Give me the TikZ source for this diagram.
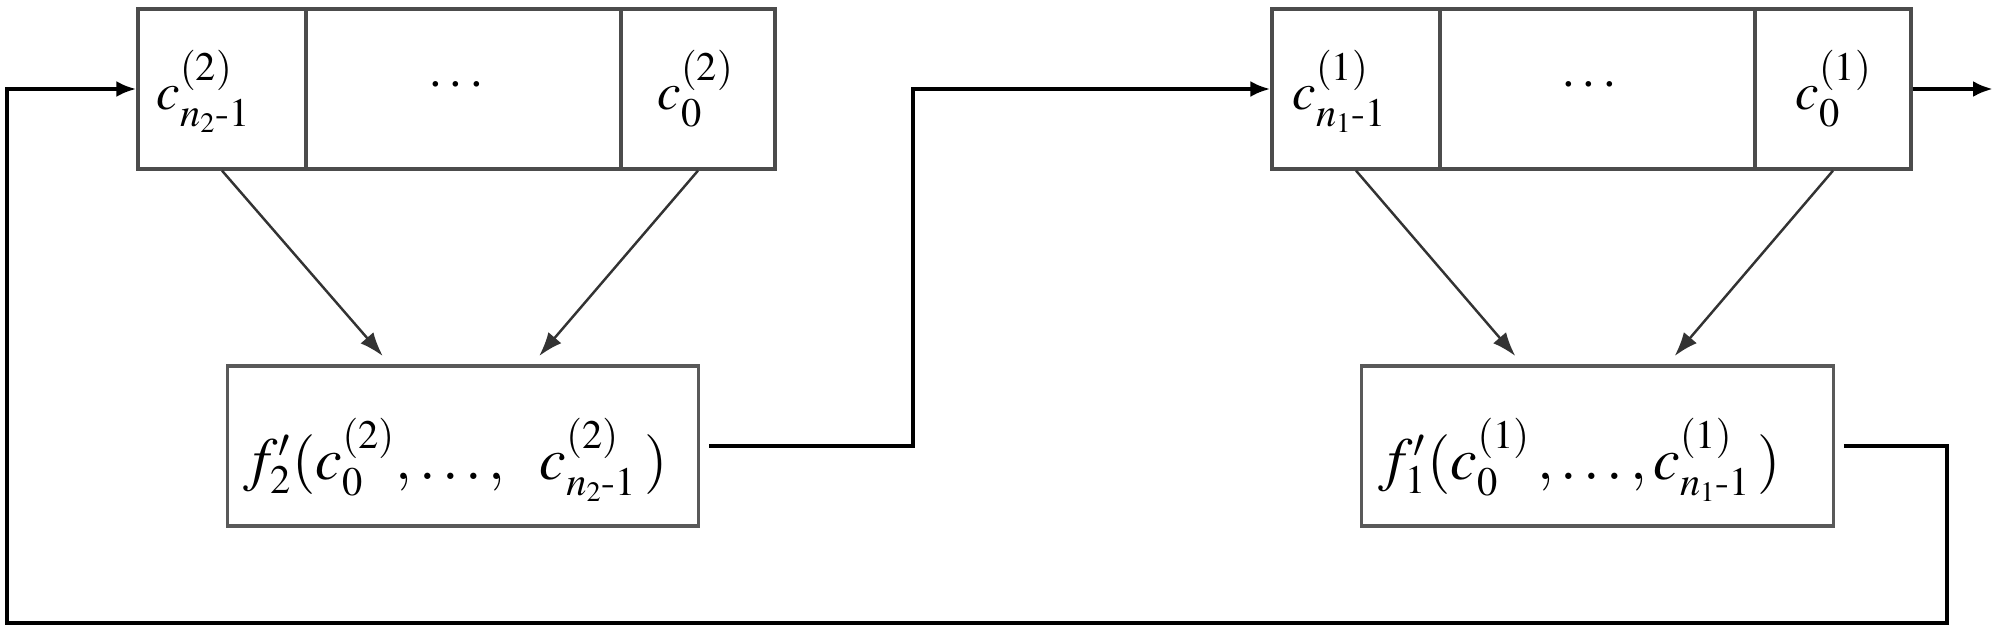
\documentclass[tikz,border=0pt]{standalone}
\usepackage{amsmath}
\usepackage{mathptmx}
\DeclareMathSizes{15}{15}{11.5}{8}
\DeclareMathSizes{17}{17}{11.5}{8}
\usetikzlibrary{arrows.meta,calc}
\begin{document}
\begin{tikzpicture}[x=0.01cm,y=-0.01cm,
  cell/.style={draw=black!70,line width=0.9pt,minimum height=1.6cm,inner sep=0pt},
  funcbox/.style={draw=black!65,line width=0.9pt,minimum width=4.71cm,minimum height=1.6cm,inner sep=0pt},
  reglbl/.style={inner sep=0pt,font=\fontsize{15}{18}\selectfont},
  funlbl/.style={inner sep=0pt,font=\fontsize{17}{20}\selectfont},
  conn/.style={line width=1.2pt},
  tip/.style={-{Latex[length=0.2cm,width=0.16cm]}},
  diag/.style={draw=black!80,line width=0.7pt,-{Latex[length=0.24cm,width=0.17cm]},shorten >=0.11cm}]
\useasboundingbox (0,0) rectangle (2000,636);
% left register
\node[cell,minimum width=1.68cm] (L1) at (222,89) {};
\node[cell,minimum width=3.15cm] (L2) at (463.5,89) {};
\node[cell,minimum width=1.54cm] (L3) at (698,89) {};
% right register
\node[cell,minimum width=1.68cm] (R1) at (1356,89) {};
\node[cell,minimum width=3.15cm] (R2) at (1597.5,89) {};
\node[cell,minimum width=1.56cm] (R3) at (1833,89) {};
% function boxes
\node[funcbox] (FL) at (463,446) {};
\node[funcbox] (FR) at (1597.5,446) {};
% labels
\node[reglbl,anchor=base west] (tL1) at (156,109) {$c^{(2)}_{n_2\text{-}1}$};
\node[reglbl] (tL2) at (459,86) {$\cdots$};
\node[reglbl,anchor=base west] (tL3) at (657,109) {$c^{(2)}_0$};
\node[reglbl,anchor=base west] (tR1) at (1292,109) {$c^{(1)}_{n_1\text{-}1}$};
\node[reglbl] (tR2) at (1592,86) {$\cdots$};
\node[reglbl,anchor=base west] (tR3) at (1795,109) {$c^{(1)}_0$};
\node[funlbl,anchor=base west] (tFL) at (243,479) {$f'_2(c^{(2)}_0,\ldots,\hspace{0.28cm}c^{(2)}_{n_2\text{-}1}\,)$};
\node[funlbl,anchor=base west] (tFR) at (1378,479) {$f'_1(c^{(1)}_0\,,\ldots,c^{(1)}_{n_1\text{-}1}\,)$};
% coordinates
\coordinate (k1) at (913,446);
\coordinate (b1) at (1947,623);
\coordinate (b2) at (7,623);
\coordinate (out) at (1993,89);
% connectors
\draw[conn,tip,shorten <=0.09cm] (FL.east) -- (k1) |- (R1.west);
\draw[conn,tip,shorten <=0.09cm] (FR.east) -| (b1) -- (b2) |- (L1.west);
\draw[conn,tip] (R3.east) -- (out);
\draw[diag] (L1.south) -- ($(FL.north)+(-73,0)$);
\draw[diag] (L3.south) -- ($(FL.north)+(69,0)$);
\draw[diag] (R1.south) -- ($(FR.north)+(-75,0)$);
\draw[diag] (R3.south) -- ($(FR.north)+(70,0)$);
\end{tikzpicture}
\end{document}
